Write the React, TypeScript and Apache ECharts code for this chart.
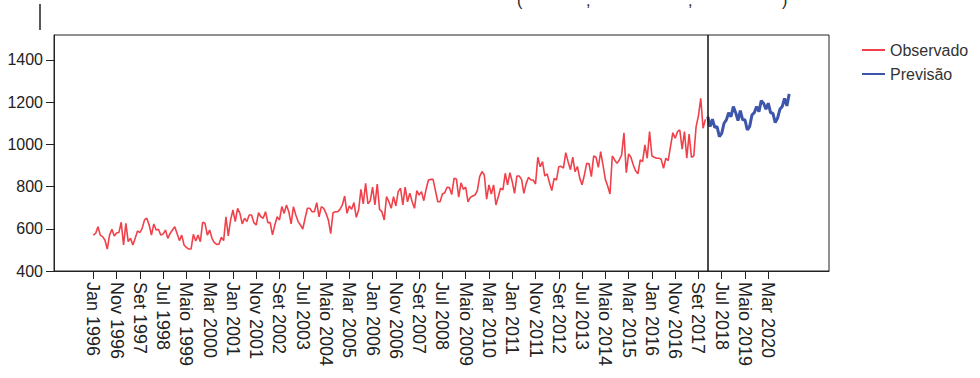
import React, { useEffect, useRef } from "react";
import * as echarts from "echarts";

// Monthly series starting Jan 1996 (month index 0)
const observed: number[] = [
  570, 578, 610, 570, 563, 547, 504, 570, 598, 566, 580, 582,
  631, 523, 626, 539, 555, 523, 555, 590, 582, 602, 642, 650,
  618, 570, 623, 594, 598, 570, 575, 594, 555, 578, 594, 610,
  578, 544, 570, 523, 512, 504, 504, 574, 542, 570, 539, 631,
  626, 570, 594, 555, 534, 526, 527, 560, 544, 657, 566, 642,
  689, 634, 697, 673, 623, 650, 634, 665, 665, 629, 618, 676,
  657, 650, 681, 629, 629, 571, 618, 657, 642, 705, 673, 713,
  681, 623, 705, 665, 634, 618, 599, 650, 697, 697, 681, 681,
  724, 657, 705, 697, 673, 642, 577, 676, 681, 681, 692, 713,
  755, 673, 708, 692, 724, 654, 689, 787, 718, 815, 718, 733,
  797, 713, 812, 692, 681, 642, 752, 728, 697, 752, 708, 776,
  792, 713, 797, 728, 768, 728, 697, 781, 760, 776, 733, 787,
  831, 834, 834, 781, 728, 728, 765, 771, 797, 795, 762, 839,
  836, 750, 818, 787, 797, 728, 749, 755, 760, 781, 847, 871,
  855, 740, 808, 765, 808, 713, 752, 792, 784, 863, 808, 866,
  823, 768, 850, 850, 834, 768, 815, 844, 831, 831, 812, 939,
  894, 918, 850, 860, 818, 781, 839, 831, 894, 896, 887, 961,
  918, 880, 939, 870, 895, 840, 808, 855, 910, 908, 847, 945,
  939, 891, 965, 902, 834, 803, 765, 945, 926, 910, 926, 950,
  1055, 866, 955, 939, 902, 875, 860, 926, 918, 997, 934, 1060,
  945, 939, 934, 934, 929, 887, 934, 923, 989, 1055, 1029, 1060,
  1068, 977, 1060, 934, 1049, 939, 945, 1084, 1135, 1218, 1076, 1119,
];

const forecast: number[] = [
  1131, 1084, 1119, 1081, 1084, 1037, 1052, 1100, 1116, 1150, 1131, 1179,
  1150, 1112, 1160, 1116, 1116, 1068, 1084, 1139, 1150, 1179, 1155, 1207,
  1195, 1166, 1195, 1150, 1147, 1103, 1124, 1166, 1179, 1218, 1182, 1239,
];

const forecastStart = 264; // Jan 2018
const xTickLabels: string[] = [
  "Jan 1996", "Nov 1996", "Set 1997", "Jul 1998", "Maio 1999", "Mar 2000",
  "Jan 2001", "Nov 2001", "Set 2002", "Jul 2003", "Maio 2004", "Mar 2005",
  "Jan 2006", "Nov 2006", "Set 2007", "Jul 2008", "Maio 2009", "Mar 2010",
  "Jan 2011", "Nov 2011", "Set 2012", "Jul 2013", "Maio 2014", "Mar 2015",
  "Jan 2016", "Nov 2016", "Set 2017", "Jul 2018", "Maio 2019", "Mar 2020",
];
const xTickStep = 10; // months between labels
const yTicks: number[] = [400, 600, 800, 1000, 1200, 1400];

const FONT = "Liberation Sans, Arial, sans-serif";
const RED = "#f0414b";
const BLUE = "#3d56ab";

export default function App() {
  const ref = useRef<HTMLDivElement>(null);
  useEffect(() => {
    document.body.style.margin = "0";
    if (!ref.current) return;
    const chart = echarts.init(ref.current, null, { renderer: "svg" });
    const xTickValues = xTickLabels.map((_, i) => i * xTickStep);
    const obsData = observed.map((v, i) => [i, v]);
    const fcData = forecast.map((v, i) => [forecastStart + i, v]);
    chart.setOption({
      animation: false,
      textStyle: { fontFamily: FONT },
      grid: {
        left: 54,
        right: 151,
        top: 35,
        bottom: 107,
        show: true,
        borderColor: "#222",
        borderWidth: 1,
        outerBoundsMode: "none",
      },
      legend: {
        orient: "vertical",
        left: 856,
        top: 37,
        itemWidth: 23,
        itemHeight: 14,
        itemGap: 8,
        itemStyle: { opacity: 0 },
        textStyle: { fontSize: 16, color: "#333", fontFamily: FONT },
        data: ["Observado", "Previsão"],
      },
      xAxis: {
        type: "value",
        min: -16.88,
        max: 316.1,
        splitLine: { show: false },
        axisLine: { onZero: false, lineStyle: { color: "#222", width: 1 } },
        axisTick: {
          customValues: xTickValues,
          length: 8,
          lineStyle: { color: "#222" },
        },
        axisLabel: {
          customValues: xTickValues,
          rotate: -90,
          margin: 11,
          fontSize: 18,
          color: "#222",
          fontFamily: FONT,
          formatter: (v: number) => xTickLabels[Math.round(v / xTickStep)] ?? "",
        },
      },
      yAxis: {
        type: "value",
        min: 400,
        max: 1518,
        splitLine: { show: false },
        axisLine: { show: true, onZero: false, lineStyle: { color: "#222", width: 1 } },
        axisTick: {
          show: true,
          customValues: yTicks,
          length: 8,
          lineStyle: { color: "#222" },
        },
        axisLabel: {
          customValues: yTicks,
          margin: 11,
          fontSize: 16,
          color: "#222",
          fontFamily: FONT,
          formatter: (v: number) => String(v),
        },
      },
      series: [
        {
          name: "Observado",
          type: "line",
          data: obsData,
          symbol: "none",
          lineStyle: { color: RED, width: 1.6 },
          itemStyle: { color: RED },
          markLine: {
            silent: true,
            symbol: "none",
            label: { show: false },
            lineStyle: { color: "#111", width: 1.5, type: "solid" },
            data: [{ xAxis: forecastStart }],
          },
        },
        {
          name: "Previsão",
          type: "line",
          data: fcData,
          symbol: "none",
          lineStyle: { color: BLUE, width: 3 },
          itemStyle: { color: BLUE },
        },
      ],
      graphic: [
        {
          type: "line",
          shape: { x1: 40, y1: 4, x2: 40, y2: 30 },
          style: { stroke: "#222", lineWidth: 1.5 },
        },
        { type: "text", x: 517, y: -8, style: { text: "(", fontSize: 16, fill: "#222", fontFamily: FONT } },
        { type: "text", x: 586, y: -8, style: { text: ",", fontSize: 16, fill: "#222", fontFamily: FONT } },
        { type: "text", x: 688, y: -8, style: { text: ",", fontSize: 16, fill: "#222", fontFamily: FONT } },
        { type: "text", x: 782, y: -8, style: { text: ")", fontSize: 16, fill: "#222", fontFamily: FONT } },
      ],
    });
    return () => chart.dispose();
  }, []);
  return (
    <div
      ref={ref}
      style={{ position: "absolute", left: 0, top: 0, width: 980, height: 378 }}
    />
  );
}
